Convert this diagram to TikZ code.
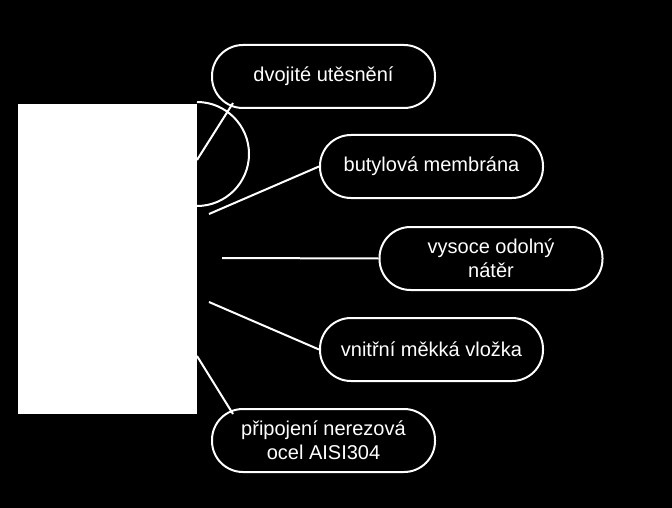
\documentclass[tikz,border=0pt]{standalone}
\usepackage{fontspec}
\setmainfont{Liberation Sans}
\begin{document}
\begin{tikzpicture}[x=1pt,y=-1pt,
  pill/.style={draw=white,line width=2pt,fill=black,text=white,rounded corners=31pt,minimum width=223pt,minimum height=63pt,align=center,font=\fontsize{20}{24}\selectfont,inner sep=0pt},
  conn/.style={draw=white,line width=2pt}]
\fill[black] (0,0) rectangle (672,508);
\useasboundingbox (0,0) rectangle (672,508);
\node[fill=white,minimum width=179pt,minimum height=310pt,inner sep=0pt] (r) at (107.5,259) {};
\node[pill] (p1) at (323.5,76.5) {dvojité utěsnění};
\node[pill] (p2) at (431.5,166.5) {butylová membrána};
\node[pill] (p3) at (491,258.5) {vysoce odolný\\nátěr};
\node[pill] (p4) at (431.5,349.5) {vnitřní měkká vložka};
\node[pill] (p5) at (323.5,440.5) {připojení nerezová\\ocel AISI304};
\coordinate (a1) at (197,160);
\coordinate (b1) at (233,103);
\coordinate (a2) at (209,214);
\coordinate (a3) at (222,258);
\coordinate (a4) at (209,302);
\coordinate (a5) at (197,356);
\coordinate (b5) at (233,414);
\draw[conn] (a1) -- (b1);
\draw[conn] (a5) -- (b5);
\draw[conn] (197,206) arc[start angle=90,end angle=-90,radius=52] ;
\draw[conn] (a2) -- (p2.west);
\draw[conn] (a3) -- (p3.west);
\draw[conn] (a4) -- (p4.west);
\end{tikzpicture}
\end{document}
